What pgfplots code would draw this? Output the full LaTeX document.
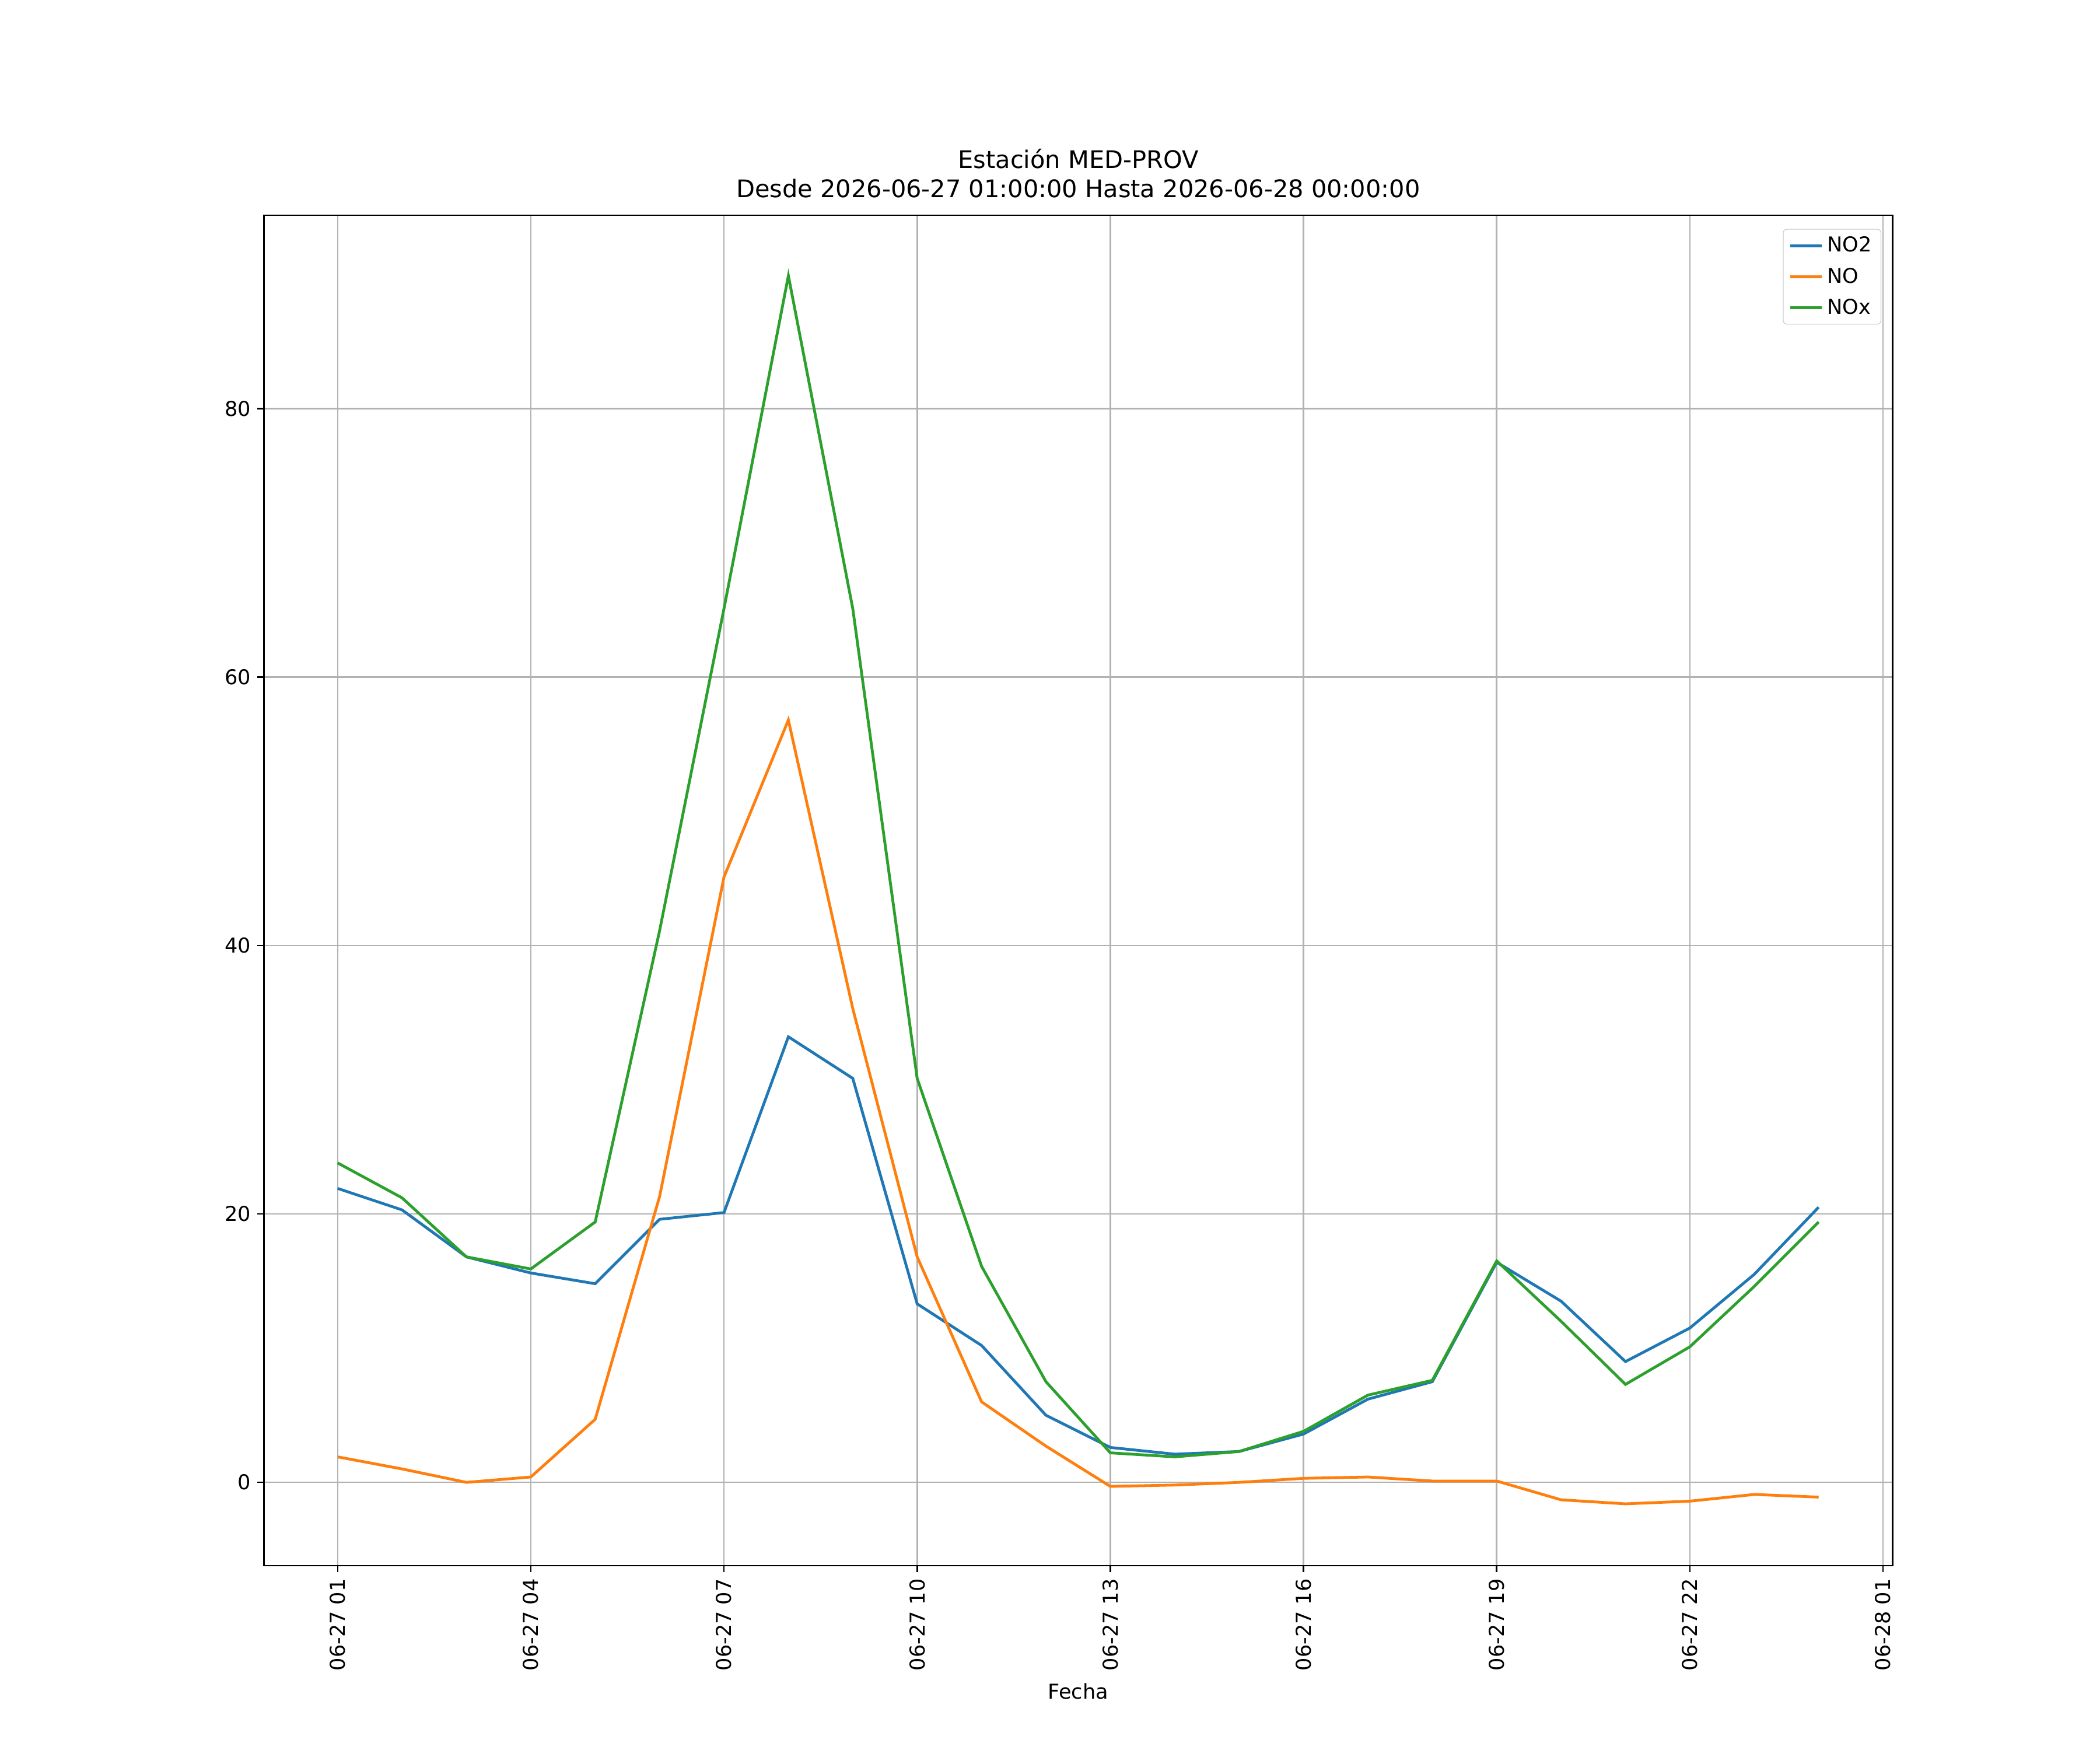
\documentclass[border=0pt]{standalone}
\usepackage{pgfplots}
\pgfplotsset{compat=1.18}
\usepackage{fontspec}
\setmainfont{DejaVu Sans}
\definecolor{c1}{HTML}{1F77B4}
\definecolor{c2}{HTML}{FF7F0E}
\definecolor{c3}{HTML}{2CA02C}
\begin{document}
\begin{tikzpicture}
\path[use as bounding box] (-1.96in,-1.37in) rectangle (13.64in,11.63in);
\begin{axis}[at={(0,0)},anchor=south west,scale only axis,
 width=12.1in,height=10.03in,
 xmin=-0.146,xmax=25.15,ymin=-6.2,ymax=94.4,
 xtick={1,4,7,10,13,16,19,22,25},
 xticklabels={06-27 01,06-27 04,06-27 07,06-27 10,06-27 13,06-27 16,06-27 19,06-27 22,06-28 01},
 x tick label style={rotate=90,anchor=east},
 ytick={0,20,40,60,80},
 xtick pos=bottom, ytick pos=left,
 grid=major, grid style={gray!60,line width=0.8pt},
 /pgf/number format/assume math mode=true,
 tick style={black,line width=0.8pt}, tick align=outside, major tick length=3.5pt,
 xlabel={Fecha},
 label style={font=\fontsize{11}{13}\selectfont},
 title={Estación MED-PROV\\Desde 2026-06-27 01:00:00 Hasta 2026-06-28 00:00:00},
 title style={align=center,font=\fontsize{13}{15.5}\selectfont},
 ticklabel style={font=\fontsize{11}{13}\selectfont},
 legend style={at={(0.993,0.99)},anchor=north east,font=\fontsize{11}{13}\selectfont,rounded corners=2pt,draw=gray!40,row sep=3pt},
 legend cell align=left,
 every axis plot/.append style={line width=1.5pt,no marks},
 axis line style={line width=0.8pt},
]
\addplot[c1] coordinates {(1,21.9)(2,20.3)(3,16.8)(4,15.6)(5,14.8)(6,19.6)(7,20.1)(8,33.2)(9,30.1)(10,13.3)(11,10.2)(12,5.0)(13,2.6)(14,2.1)(15,2.3)(16,3.6)(17,6.2)(18,7.5)(19,16.4)(20,13.5)(21,9.0)(22,11.5)(23,15.5)(24,20.5)};
\addlegendentry{NO2}
\addplot[c2] coordinates {(1,1.9)(2,1.0)(3,0)(4,0.4)(5,4.7)(6,21.3)(7,45.1)(8,56.8)(9,35.3)(10,16.8)(11,6.0)(12,2.7)(13,-0.3)(14,-0.2)(15,0)(16,0.3)(17,0.4)(18,0.1)(19,0.1)(20,-1.3)(21,-1.6)(22,-1.4)(23,-0.9)(24,-1.1)};
\addlegendentry{NO}
\addplot[c3] coordinates {(1,23.8)(2,21.2)(3,16.8)(4,15.9)(5,19.4)(6,41.1)(7,65.1)(8,89.9)(9,65.1)(10,30.1)(11,16.1)(12,7.5)(13,2.2)(14,1.9)(15,2.3)(16,3.8)(17,6.5)(18,7.6)(19,16.5)(20,12.0)(21,7.3)(22,10.1)(23,14.6)(24,19.4)};
\addlegendentry{NOx}
\end{axis}
\end{tikzpicture}
\end{document}
